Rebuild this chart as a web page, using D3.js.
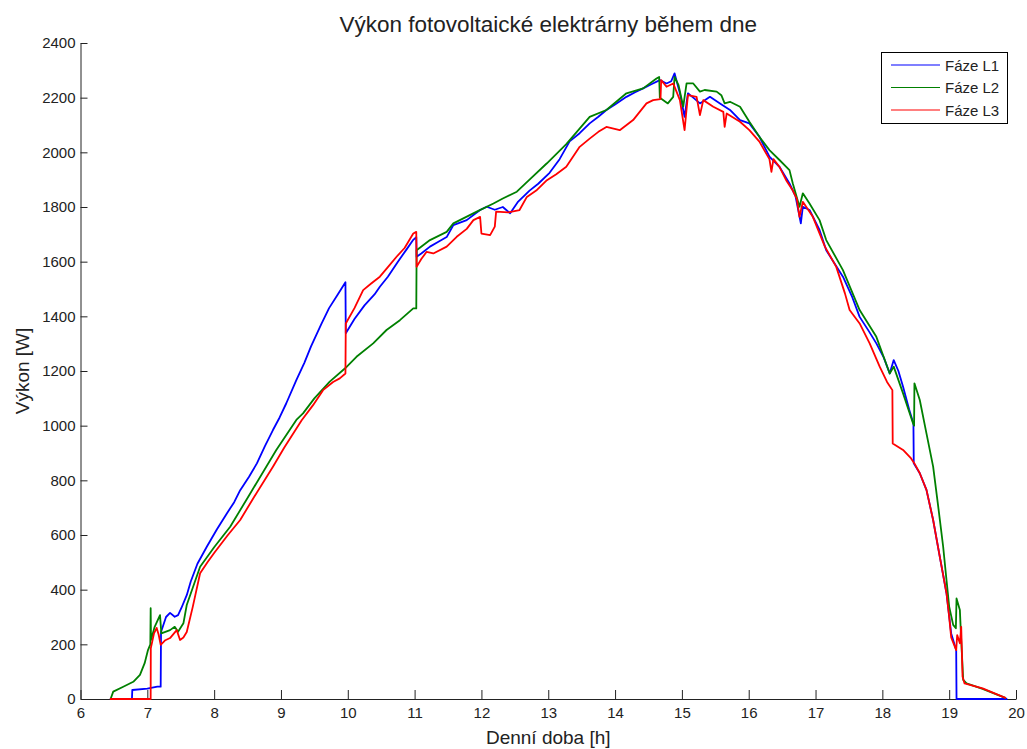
<!DOCTYPE html>
<html>
<head>
<meta charset="utf-8">
<script src="https://cdn.jsdelivr.net/npm/d3@7"></script>
<style>
  body { margin: 0; background: #fff; }
  text { font-family: "Liberation Sans", Arial, Helvetica, sans-serif; fill: #222; }
</style>
</head>
<body>
<div id="wrapper"></div>
<script>
// phase power readings [hour, W]
const phaseL1 = [[6.44,0],[6.77,0],[6.775,33],[7.0,38],[7.15,45],[7.2,45],[7.205,245],[7.28,300],[7.34,315],[7.41,301],[7.46,307],[7.51,333],[7.59,380],[7.65,430],[7.75,495],[7.89,557],[8.04,620],[8.19,679],[8.3,720],[8.39,764],[8.52,812],[8.64,862],[8.76,925],[8.88,984],[8.98,1030],[9.08,1082],[9.23,1167],[9.35,1230],[9.45,1290],[9.6,1370],[9.72,1430],[9.85,1480],[9.965,1525],[9.97,1338],[10.1,1390],[10.25,1440],[10.4,1480],[10.48,1508],[10.6,1545],[10.75,1600],[10.88,1645],[10.98,1680],[11.025,1690],[11.03,1618],[11.1,1630],[11.23,1655],[11.35,1672],[11.48,1690],[11.58,1734],[11.78,1752],[11.98,1789],[12.08,1801],[12.2,1790],[12.32,1800],[12.43,1777],[12.55,1820],[12.72,1860],[12.85,1885],[13.02,1925],[13.17,1975],[13.32,2040],[13.47,2070],[13.62,2106],[13.75,2130],[13.87,2155],[14.0,2175],[14.17,2203],[14.3,2220],[14.42,2234],[14.55,2250],[14.67,2264],[14.77,2252],[14.84,2260],[14.89,2289],[14.97,2216],[15.04,2130],[15.09,2216],[15.17,2200],[15.27,2179],[15.42,2203],[15.57,2179],[15.72,2155],[15.87,2118],[16.01,2106],[16.16,2057],[16.31,1984],[16.46,1947],[16.61,1886],[16.7,1840],[16.78,1740],[16.81,1801],[16.91,1789],[17.06,1716],[17.16,1642],[17.28,1595],[17.41,1545],[17.55,1470],[17.66,1398],[17.8,1345],[17.91,1301],[18.02,1250],[18.11,1191],[18.17,1240],[18.24,1200],[18.31,1142],[18.4,1060],[18.465,1008],[18.47,862],[18.56,826],[18.66,765],[18.76,655],[18.86,520],[18.96,387],[19.03,240],[19.105,179],[19.11,0],[19.87,0]];

const phaseL2 = [[6.45,0],[6.49,27],[6.64,45],[6.79,63],[6.89,88],[6.96,131],[7.01,179],[7.045,200],[7.05,332],[7.055,216],[7.11,264],[7.19,307],[7.21,240],[7.34,252],[7.41,264],[7.46,246],[7.54,277],[7.59,344],[7.79,484],[8.0,555],[8.24,630],[8.54,752],[8.93,911],[9.23,1021],[9.33,1045],[9.5,1100],[9.73,1161],[9.96,1210],[10.13,1252],[10.38,1301],[10.58,1350],[10.78,1386],[10.98,1429],[11.025,1429],[11.03,1642],[11.23,1679],[11.48,1709],[11.58,1740],[11.93,1783],[12.18,1813],[12.32,1831],[12.53,1856],[12.72,1900],[12.98,1960],[13.27,2030],[13.62,2130],[13.87,2155],[14.17,2216],[14.42,2234],[14.62,2270],[14.66,2276],[14.67,2200],[14.79,2179],[14.87,2203],[14.89,2276],[14.95,2246],[15.02,2167],[15.07,2252],[15.17,2252],[15.27,2222],[15.34,2228],[15.52,2222],[15.59,2209],[15.64,2179],[15.72,2185],[15.87,2167],[16.01,2112],[16.16,2057],[16.31,2008],[16.46,1972],[16.61,1935],[16.66,1886],[16.76,1801],[16.81,1850],[16.91,1813],[17.06,1752],[17.16,1679],[17.41,1569],[17.66,1423],[17.91,1325],[18.11,1191],[18.17,1216],[18.31,1118],[18.46,1008],[18.475,1000],[18.48,1155],[18.56,1094],[18.66,972],[18.76,850],[18.83,716],[18.91,557],[18.96,435],[19.0,338],[19.06,271],[19.1,259],[19.11,368],[19.16,326],[19.18,216],[19.21,70],[19.26,57],[19.5,37],[19.85,3]];

const phaseL3 = [[6.44,0],[7.05,0],[7.052,185],[7.1,240],[7.14,260],[7.17,235],[7.2,198],[7.27,215],[7.34,223],[7.44,252],[7.49,216],[7.54,225],[7.59,245],[7.68,337],[7.79,460],[7.9,500],[8.0,534],[8.2,598],[8.39,655],[8.6,740],[8.88,850],[9.05,920],[9.31,1020],[9.48,1075],[9.63,1130],[9.78,1160],[9.88,1173],[9.965,1191],[9.97,1374],[10.1,1430],[10.23,1496],[10.35,1520],[10.48,1545],[10.6,1580],[10.73,1618],[10.85,1650],[10.98,1703],[11.025,1709],[11.03,1581],[11.1,1610],[11.18,1636],[11.28,1630],[11.48,1655],[11.63,1691],[11.78,1720],[11.88,1752],[11.98,1764],[12.0,1703],[12.13,1697],[12.2,1728],[12.22,1783],[12.4,1780],[12.57,1789],[12.68,1837],[12.82,1860],[12.98,1898],[13.12,1920],[13.27,1947],[13.47,2020],[13.62,2050],[13.75,2075],[13.87,2093],[14.07,2081],[14.27,2118],[14.47,2179],[14.57,2191],[14.68,2195],[14.69,2264],[14.77,2240],[14.87,2252],[14.97,2191],[15.04,2081],[15.09,2209],[15.22,2203],[15.27,2136],[15.32,2191],[15.47,2167],[15.62,2148],[15.64,2093],[15.67,2142],[15.87,2112],[16.01,2081],[16.16,2039],[16.31,1975],[16.34,1929],[16.37,1975],[16.46,1947],[16.56,1898],[16.66,1860],[16.72,1830],[16.76,1764],[16.81,1819],[16.96,1764],[17.14,1655],[17.31,1581],[17.44,1484],[17.51,1423],[17.66,1374],[17.81,1301],[17.96,1216],[18.07,1160],[18.15,1130],[18.155,935],[18.31,911],[18.43,880],[18.48,862],[18.56,826],[18.66,765],[18.76,655],[18.86,520],[18.96,387],[19.0,300],[19.03,225],[19.105,179],[19.12,234],[19.16,204],[19.18,264],[19.2,82],[19.23,57],[19.5,39],[19.85,3]];

const seriesNames = ["Fáze L1", "Fáze L2", "Fáze L3"];
const seriesColors = ["#0000ff", "#008000", "#ff0000"];
const xTicks = [6, 7, 8, 9, 10, 11, 12, 13, 14, 15, 16, 17, 18, 19, 20];
const yTicks = [0, 200, 400, 600, 800, 1000, 1200, 1400, 1600, 1800, 2000, 2200, 2400];

function buildPlot() {
    var dimension = {
        width: 1027,
        height: 749,
        margin: { top: 43, left: 80.5, bottom: 50, right: 11 }
    };
    dimension.boundedWidth = dimension.width - dimension.margin.left - dimension.margin.right;
    dimension.boundedHeight = dimension.height - dimension.margin.top - dimension.margin.bottom;

    const svg = d3.select("#wrapper").append("svg")
        .attr("width", dimension.width)
        .attr("height", dimension.height);

    const bounds = svg.append("g")
        .attr("transform", `translate(${dimension.margin.left},${dimension.margin.top})`);

    const xScaler = d3.scaleLinear().domain([6, 20]).range([0, dimension.boundedWidth]);
    const yScaler = d3.scaleLinear().domain([0, 2400]).range([dimension.boundedHeight, 0]);

    // axes with inward ticks, matlab style
    const xAxis = bounds.append("g")
        .attr("transform", `translate(0,${dimension.boundedHeight})`)
        .call(d3.axisBottom(xScaler).tickValues(xTicks).tickFormat(d3.format("d"))
            .tickSizeInner(-9).tickSizeOuter(0).tickPadding(8));
    const yAxis = bounds.append("g")
        .call(d3.axisLeft(yScaler).tickValues(yTicks).tickFormat(d3.format("d"))
            .tickSizeInner(-7).tickSizeOuter(0).tickPadding(5));

    [xAxis, yAxis].forEach(a => {
        a.selectAll("text").style("font-size", "15px").attr("fill", "#222");
        a.selectAll("line").attr("stroke", "#222");
        a.select(".domain").attr("stroke", "#222");
    });

    const line = d3.line()
        .x(d => xScaler(d[0]))
        .y(d => yScaler(d[1]));

    [phaseL1, phaseL2, phaseL3].forEach((s, i) => {
        bounds.append("path")
            .datum(s)
            .attr("fill", "none")
            .attr("stroke", seriesColors[i])
            .attr("stroke-width", 1.8)
            .attr("stroke-linejoin", "round")
            .attr("d", line);
    });
    //drawing phases

    svg.append("text")
        .attr("x", dimension.margin.left + dimension.boundedWidth / 2)
        .attr("y", 32)
        .attr("text-anchor", "middle")
        .style("font-size", "22.5px")
        .text("Výkon fotovoltaické elektrárny během dne");

    svg.append("text")
        .attr("x", dimension.margin.left + dimension.boundedWidth / 2)
        .attr("y", 744)
        .attr("text-anchor", "middle")
        .style("font-size", "19px")
        .text("Denní doba [h]");

    svg.append("text")
        .attr("transform", `translate(29,${dimension.margin.top + dimension.boundedHeight / 2}) rotate(-90)`)
        .attr("text-anchor", "middle")
        .style("font-size", "19px")
        .text("Výkon [W]");

    // legend
    const legend = svg.append("g");
    legend.append("rect")
        .attr("x", 881.5).attr("y", 52.5)
        .attr("width", 126).attr("height", 71)
        .attr("fill", "#fff").attr("stroke", "#000").attr("stroke-width", 1);
    seriesNames.forEach((name, i) => {
        const ly = 65 + i * 22.5;
        legend.append("line")
            .attr("x1", 891).attr("x2", 940)
            .attr("y1", ly).attr("y2", ly)
            .attr("stroke", seriesColors[i]).attr("stroke-width", 1.2);
        legend.append("text")
            .attr("x", 945).attr("y", ly + 5.5)
            .style("font-size", "15px")
            .text(name);
    });
}

buildPlot();
</script>
</body>
</html>
